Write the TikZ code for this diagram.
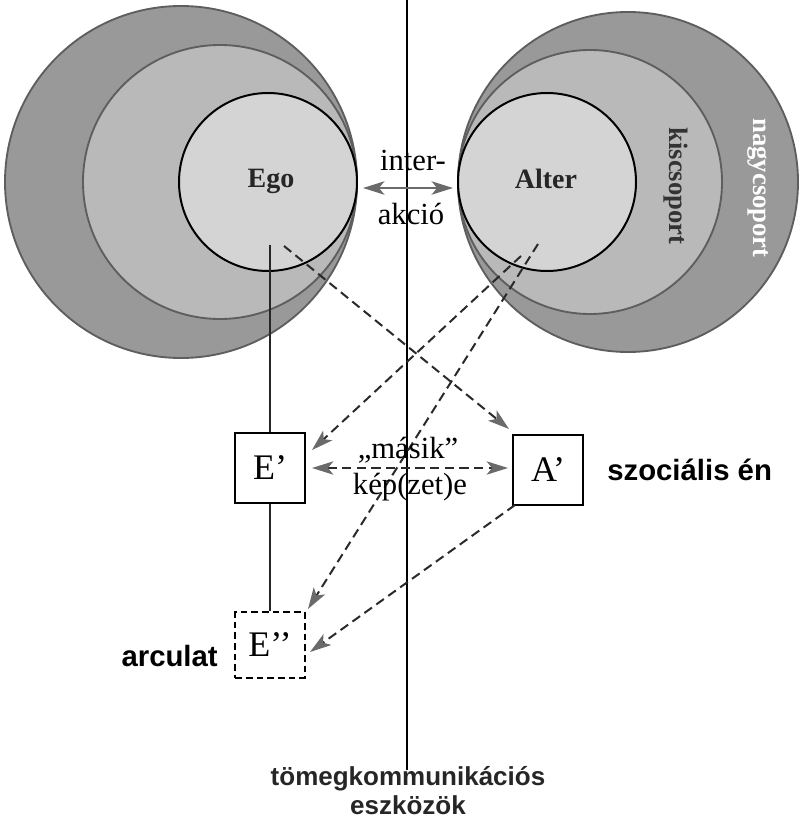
\documentclass[tikz,border=0pt]{standalone}
\usepackage{fontspec}
\setmainfont{Liberation Serif}
\newfontfamily\labfont{Liberation Sans}
\usetikzlibrary{arrows.meta}
\definecolor{outerg}{HTML}{999999}
\definecolor{midg}{HTML}{B9B9B9}
\definecolor{innerg}{HTML}{D4D4D4}
\definecolor{edgeg}{HTML}{5E5E5E}
\definecolor{tipg}{HTML}{6A6A6A}
\definecolor{dashc}{HTML}{2A2A2A}
\begin{document}
\begin{tikzpicture}[x=0.75pt,y=-0.75pt,
  ring/.style={draw=edgeg,line width=1.4pt},
  core/.style={draw=black,line width=1.5pt,fill=innerg},
  boxn/.style={draw=black,line width=1.4pt,minimum width=52pt,minimum height=52pt,inner sep=0pt,font=\fontsize{27}{30}\selectfont},
  dboxn/.style={boxn,dashed,dash pattern=on 5pt off 3pt,minimum height=49pt},
  serif/.style={font=\fontsize{23}{26}\selectfont,inner sep=0pt},
  boldlab/.style={font=\labfont\bfseries\fontsize{22}{24}\selectfont,inner sep=0pt},
  dasharrow/.style={draw=dashc,line width=1.5pt,dash pattern=on 7pt off 4pt,-{Stealth[length=16pt,width=10pt,inset=4pt,color=tipg]}},
  ddasharrow/.style={dasharrow,{Stealth[length=16pt,width=10pt,inset=4pt,color=tipg]}-{Stealth[length=16pt,width=10pt,inset=4pt,color=tipg]}},
  solidline/.style={draw=black!85,line width=1.4pt}
]
\useasboundingbox (0,0) rectangle (806,820);

% left circles (Ego)
\filldraw[ring,fill=outerg] (181,182) circle[radius=176];
\filldraw[ring,fill=midg] (220,182) circle[radius=137];
\filldraw[core] (268,182) circle[radius=89];
% right circles (Alter)
\filldraw[ring,fill=outerg] (628,182) circle[radius=170];
\filldraw[ring,fill=midg] (590,182) circle[radius=132];
\filldraw[core] (547,182) circle[radius=89];

\node[font=\bfseries\fontsize{21}{24}\selectfont,inner sep=0pt,text=black!85] (ego) at (271,181) {Ego};
\node[font=\bfseries\fontsize{21}{24}\selectfont,inner sep=0pt,text=black!85] (alter) at (546,179) {Alter};
\node[inner sep=0pt,rotate=-90,font=\bfseries\fontsize{20}{22}\selectfont,text=black!80] (kis) at (676,186) {kiscsoport};
\node[inner sep=0pt,rotate=-90,text=white,font=\bfseries\fontsize{20}{22}\selectfont] (nagy) at (758,188) {nagycsoport};

% central vertical line
\coordinate (vtop) at (407,0);
\coordinate (vbot) at (407,770);
\draw[black,line width=1.9pt] (vtop) -- (vbot);

% interaction
\node[serif] (inter) at (413,160) {inter-};
\node[serif] (akcio) at (411,214) {akció};
\coordinate (ia) at (363,188);
\coordinate (ib) at (453,188);
\draw[draw=tipg,line width=1.8pt,{Stealth[length=16pt,width=10pt,inset=4pt]}-{Stealth[length=16pt,width=10pt,inset=4pt]}] (ia) -- (ib);

% boxes
\node[boxn] (Ep) at (270,468) {E’};
\node[boxn] (Ap) at (548,470) {A’};
\node[dboxn] (Epp) at (270,645) {E’’};

\node[boldlab,anchor=west] (szoc) at (607,470) {szociális én};
\node[boldlab,anchor=east] (arc) at (218,656) {arculat};

% solid links
\coordinate (egoc) at (270,245);
\draw[solidline] (egoc) -- (Ep.north);
\draw[solidline] (Ep.south) -- (Epp.north);

% dashed arrows
\coordinate (egos) at (284,246);
\coordinate (alts1) at (521,256);
\coordinate (alts2) at (538,244);
\coordinate (apTip) at (509,429);
\coordinate (epTip) at (312,450);
\coordinate (eppTip1) at (308,609);
\coordinate (eppTip2) at (310,652);
\coordinate (apBL) at (515,505);
\draw[dasharrow] (egos) -- (apTip);
\draw[dasharrow] (alts1) -- (epTip);
\draw[dasharrow] (alts2) -- (eppTip1);
\draw[dasharrow] (apBL) -- (eppTip2);
\coordinate (hl) at (312,468);
\coordinate (hr) at (508,468);
\draw[ddasharrow] (hl) -- (hr);

\node[serif] (masik) at (408,450) {„másik”};
\node[serif] (kep) at (410,487) {kép(zet)e};

\node[font=\labfont\bfseries\fontsize{19.5}{22}\selectfont,inner sep=0pt,text=black!85] (tomeg) at (408,779) {tömegkommunikációs};
\node[font=\labfont\bfseries\fontsize{19.5}{22}\selectfont,inner sep=0pt,text=black!85] (eszk) at (408,805) {eszközök};
\end{tikzpicture}
\end{document}
